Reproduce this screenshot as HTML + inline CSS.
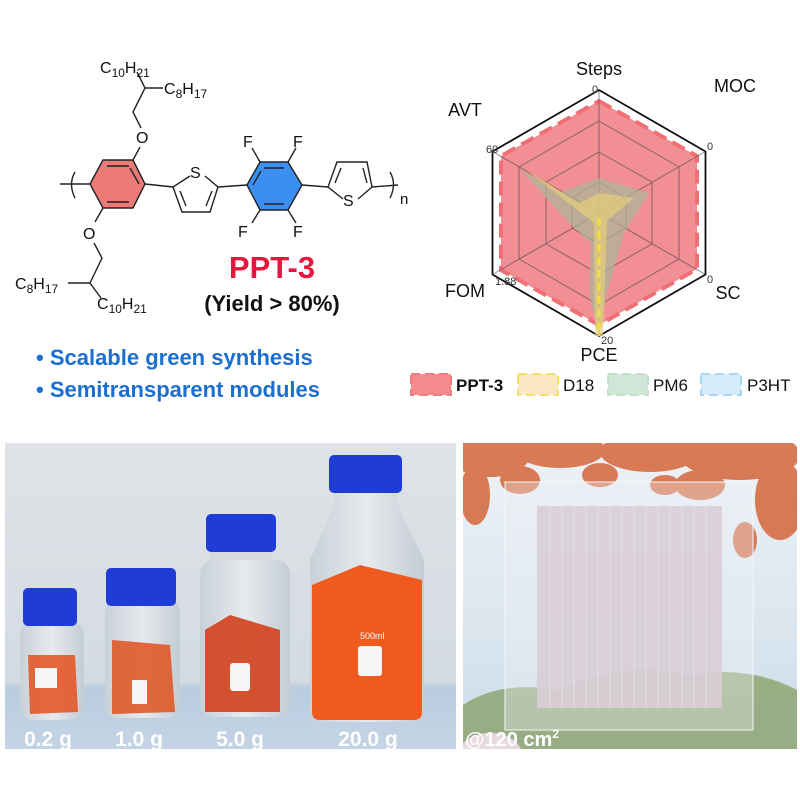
<!DOCTYPE html>
<html><head><meta charset="utf-8"><style>
html,body{margin:0;padding:0;background:#fff;}
svg{display:block;}
text{font-family:"Liberation Sans",Arial,sans-serif;}
</style></head><body>
<svg width="800" height="800" viewBox="0 0 800 800" xmlns="http://www.w3.org/2000/svg">
<defs>
<linearGradient id="bgL" x1="0" y1="0" x2="0" y2="1"><stop offset="0" stop-color="#dfe3e7"/><stop offset="0.78" stop-color="#d4dbe2"/><stop offset="0.8" stop-color="#b9cde0"/><stop offset="1" stop-color="#c4d4e4"/></linearGradient>
<linearGradient id="sky" x1="0" y1="0" x2="0" y2="1"><stop offset="0" stop-color="#eef2f6"/><stop offset="0.6" stop-color="#dbe6ef"/><stop offset="1" stop-color="#cbdbe8"/></linearGradient>
<linearGradient id="glass" x1="0" y1="0" x2="1" y2="0"><stop offset="0" stop-color="#c9d1d8"/><stop offset="0.5" stop-color="#e6eaee"/><stop offset="1" stop-color="#c4ccd4"/></linearGradient>
<clipPath id="cr"><rect x="463" y="443" width="334" height="306"/></clipPath>
</defs>

<!-- ===== Chemical structure ===== -->
<g stroke="#222" stroke-width="1.4" fill="none">
 <polygon points="90,184 103,160 133,160 145,184 133,208 103,208" fill="#ec7b78"/>
 <line x1="107" y1="166" x2="129" y2="166"/><line x1="107" y1="202" x2="129" y2="202"/>
 <line x1="139" y1="184" x2="130" y2="168"/>
 <polygon points="247,185 260,162 288,162 302,185 288,210 260,210" fill="#3c8ef0"/>
 <line x1="264" y1="168" x2="284" y2="168"/><line x1="264" y1="204" x2="284" y2="204"/><line x1="253" y1="185" x2="261" y2="171"/>
 <line x1="60" y1="184" x2="90" y2="184"/>
 <line x1="145" y1="184" x2="173" y2="187"/>
 <polyline points="173,187 190,176"/><polyline points="205,176 218,187 210,212 182,212 173,187"/>
 <line x1="186" y1="206" x2="180" y2="191"/><line x1="206" y1="206" x2="212" y2="191"/>
 <line x1="218" y1="187" x2="247" y2="185"/>
 <line x1="302" y1="185" x2="328" y2="187"/>
 <polyline points="343,199 328,187 337,162 367,162 372,187 358,199"/>
 <line x1="341" y1="168" x2="335" y2="183"/><line x1="363" y1="168" x2="367" y2="183"/>
 <line x1="372" y1="187" x2="398" y2="185"/>
 <line x1="260" y1="162" x2="252" y2="148"/><line x1="288" y1="162" x2="296" y2="148"/>
 <line x1="260" y1="210" x2="252" y2="223"/><line x1="288" y1="210" x2="296" y2="223"/>
 <line x1="133" y1="160" x2="140" y2="147"/>
 <polyline points="141,128 133,112 145,88 137,72"/><line x1="145" y1="88" x2="163" y2="88"/>
 <line x1="103" y1="208" x2="95" y2="222"/>
 <polyline points="94,243 102,258 90,283 101,298"/><line x1="90" y1="283" x2="68" y2="283"/>
 <path d="M75,172 Q68,184 75,198"/><path d="M390,172 Q397,184 390,198"/>
</g>
<g font-size="16" fill="#111">
 <text x="190" y="178">S</text><text x="343" y="206">S</text>
 <text x="243" y="147">F</text><text x="293" y="147">F</text>
 <text x="238" y="237">F</text><text x="293" y="237">F</text>
 <text x="136" y="143">O</text><text x="83" y="239">O</text>
 <text x="400" y="204" font-size="15">n</text>
 <text x="100" y="73">C<tspan font-size="12" dy="4">10</tspan><tspan dy="-4">H</tspan><tspan font-size="12" dy="4">21</tspan></text>
 <text x="164" y="94">C<tspan font-size="12" dy="4">8</tspan><tspan dy="-4">H</tspan><tspan font-size="12" dy="4">17</tspan></text>
 <text x="15" y="289">C<tspan font-size="12" dy="4">8</tspan><tspan dy="-4">H</tspan><tspan font-size="12" dy="4">17</tspan></text>
 <text x="97" y="309">C<tspan font-size="12" dy="4">10</tspan><tspan dy="-4">H</tspan><tspan font-size="12" dy="4">21</tspan></text>
</g>
<text x="272" y="278" font-size="31" font-weight="bold" fill="#e5173f" text-anchor="middle">PPT-3</text>
<text x="272" y="311" font-size="22" font-weight="bold" fill="#111" text-anchor="middle">(Yield &gt; 80%)</text>
<text x="36" y="365" font-size="22" font-weight="bold" fill="#1a6fd1">• Scalable green synthesis</text>
<text x="36" y="397" font-size="22" font-weight="bold" fill="#1a6fd1">• Semitransparent modules</text>

<!-- ===== Radar ===== -->
<g transform="translate(599,213)">
 <polygon points="0,-123 106.5,-61.5 106.5,61.5 0,123 -106.5,61.5 -106.5,-61.5" fill="#fff" stroke="#111" stroke-width="1.8"/>
 <polygon points="0,-112 98,-57 98,56 0,112 -98,57 -98,-57" fill="#ec6a70" fill-opacity="0.75" stroke="#ef6f75" stroke-width="4" stroke-dasharray="14,7"/>
 <g stroke="#444" stroke-width="1" fill="none" opacity="0.6">
  <polygon points="0,-92 80,-46 80,46 0,92 -80,46 -80,-46"/>
  <polygon points="0,-61 53,-31 53,31 0,61 -53,31 -53,-31"/>
  <polygon points="0,-31 27,-15 27,15 0,31 -27,15 -27,-15"/>
  <line x1="0" y1="-123" x2="0" y2="123"/><line x1="-106.5" y1="-61.5" x2="106.5" y2="61.5"/><line x1="-106.5" y1="61.5" x2="106.5" y2="-61.5"/>
 </g>
 <polygon points="0,-35 50,-20 25,20 8,80 0,123 -10,80 -8,30 -30,10 -80,-45 -40,-20" fill="#a9b89a" fill-opacity="0.7"/>
 <polygon points="0,-20 35,-15 8,8 4,123 -4,123 -5,10 -75,-45 -20,-10" fill="#e4cf7a" fill-opacity="0.7"/>
 <line x1="0" y1="5" x2="0" y2="123" stroke="#f2e03a" stroke-width="3" stroke-dasharray="8,5"/>
 <g font-size="11" fill="#333">
  <text x="-7" y="-120">0</text><text x="108" y="-63">0</text><text x="108" y="70">0</text>
  <text x="2" y="131">20</text><text x="-113" y="-60">60</text><text x="-104" y="72">1.88</text>
 </g>
</g>
<g font-size="18" fill="#111" text-anchor="middle">
 <text x="599" y="75">Steps</text><text x="735" y="92">MOC</text><text x="465" y="116">AVT</text>
 <text x="465" y="297">FOM</text><text x="728" y="299">SC</text><text x="599" y="361">PCE</text>
</g>
<g>
 <rect x="411" y="374" width="40" height="21" fill="#f58a8e" stroke="#f27b80" stroke-width="2" stroke-dasharray="9,5"/>
 <text x="456" y="391" font-size="17" font-weight="bold" fill="#111">PPT-3</text>
 <rect x="518" y="374" width="40" height="21" fill="#fbe6c6" stroke="#f5e06a" stroke-width="2" stroke-dasharray="9,5"/>
 <text x="563" y="391" font-size="17" fill="#111">D18</text>
 <rect x="608" y="374" width="40" height="21" fill="#cfe6d8" stroke="#c4e0cd" stroke-width="2" stroke-dasharray="9,5"/>
 <text x="653" y="391" font-size="17" fill="#111">PM6</text>
 <rect x="701" y="374" width="40" height="21" fill="#d6ecfb" stroke="#a9d7f7" stroke-width="2" stroke-dasharray="9,5"/>
 <text x="747" y="391" font-size="17" fill="#111">P3HT</text>
</g>

<!-- ===== Left photo ===== -->
<rect x="5" y="443" width="451" height="306" fill="url(#bgL)"/>
<rect x="20" y="622" width="64" height="98" rx="12" fill="url(#glass)"/>
<path d="M28,655 L75,655 L78,712 L30,714 Z" fill="#e5501c" opacity="0.85"/>
<rect x="35" y="668" width="22" height="20" fill="#f6f6f6"/>
<rect x="23" y="588" width="54" height="38" rx="5" fill="#1f3cd6"/>
<rect x="105" y="600" width="75" height="118" rx="12" fill="url(#glass)"/>
<path d="M112,640 L170,645 L175,712 L112,714 Z" fill="#e0501d" opacity="0.85"/>
<rect x="132" y="680" width="15" height="24" fill="#f6f6f6"/>
<rect x="106" y="568" width="70" height="38" rx="5" fill="#1f3cd6"/>
<rect x="210" y="545" width="62" height="25" fill="#d4dade"/>
<rect x="200" y="560" width="90" height="157" rx="14" fill="url(#glass)"/>
<path d="M205,630 L230,615 L280,630 L280,712 L205,712 Z" fill="#d2401c" opacity="0.9"/>
<rect x="230" y="663" width="20" height="28" rx="3" fill="#f6f6f6"/>
<rect x="206" y="514" width="70" height="38" rx="5" fill="#1f3cd6"/>
<path d="M335,490 L395,490 L400,510 L424,560 L424,712 Q424,722 414,722 L320,722 Q310,722 310,712 L310,560 L332,510 Z" fill="url(#glass)"/>
<path d="M312,585 L360,565 L422,580 L422,712 Q422,720 414,720 L320,720 Q312,720 312,712 Z" fill="#ef5a1f"/>
<rect x="358" y="646" width="24" height="30" rx="3" fill="#f6f6f6"/>
<text x="360" y="639" font-size="9" fill="#fff">500ml</text>
<rect x="329" y="455" width="73" height="38" rx="5" fill="#1f3cd6"/>
<g font-size="21" font-weight="bold" fill="#fff" text-anchor="middle">
 <text x="48" y="746">0.2 g</text><text x="139" y="746">1.0 g</text><text x="240" y="746">5.0 g</text><text x="368" y="746">20.0 g</text>
</g>

<!-- ===== Right photo ===== -->
<g clip-path="url(#cr)">
<rect x="463" y="443" width="334" height="306" fill="url(#sky)"/>
<g fill="#d4663a" opacity="0.85">
 <ellipse cx="490" cy="455" rx="40" ry="22"/><ellipse cx="560" cy="450" rx="45" ry="18"/><ellipse cx="650" cy="452" rx="50" ry="20"/>
 <ellipse cx="740" cy="455" rx="60" ry="25"/><ellipse cx="780" cy="500" rx="25" ry="40"/><ellipse cx="700" cy="485" rx="25" ry="15"/>
 <ellipse cx="475" cy="495" rx="15" ry="30"/><ellipse cx="520" cy="480" rx="20" ry="14"/><ellipse cx="600" cy="475" rx="18" ry="12"/>
 <ellipse cx="745" cy="540" rx="12" ry="18"/><ellipse cx="665" cy="485" rx="15" ry="10"/>
</g>
<path d="M463,705 Q500,680 560,690 Q620,660 690,675 Q750,665 797,690 L797,749 L463,749 Z" fill="#8fa572" opacity="0.85"/>
<ellipse cx="490" cy="755" rx="32" ry="22" fill="#e7d9de"/>
<rect x="505" y="482" width="248" height="248" fill="#eef2f6" fill-opacity="0.35" stroke="#f4f6f8" stroke-width="1"/>
<rect x="537" y="506" width="185" height="202" fill="#d9cdd6" fill-opacity="0.9"/>
<g stroke="#f0ecf0" stroke-width="0.8" opacity="0.7">
 <line x1="550" y1="506" x2="550" y2="708"/><line x1="562" y1="506" x2="562" y2="708"/><line x1="574" y1="506" x2="574" y2="708"/><line x1="586" y1="506" x2="586" y2="708"/><line x1="598" y1="506" x2="598" y2="708"/><line x1="610" y1="506" x2="610" y2="708"/><line x1="622" y1="506" x2="622" y2="708"/><line x1="634" y1="506" x2="634" y2="708"/><line x1="646" y1="506" x2="646" y2="708"/><line x1="658" y1="506" x2="658" y2="708"/><line x1="670" y1="506" x2="670" y2="708"/><line x1="682" y1="506" x2="682" y2="708"/><line x1="694" y1="506" x2="694" y2="708"/><line x1="706" y1="506" x2="706" y2="708"/>
</g>
<text x="465" y="746" font-size="20" font-weight="bold" fill="#fff">@120 cm<tspan font-size="12" dy="-8">2</tspan></text>
</g>
</svg>
</body></html>
